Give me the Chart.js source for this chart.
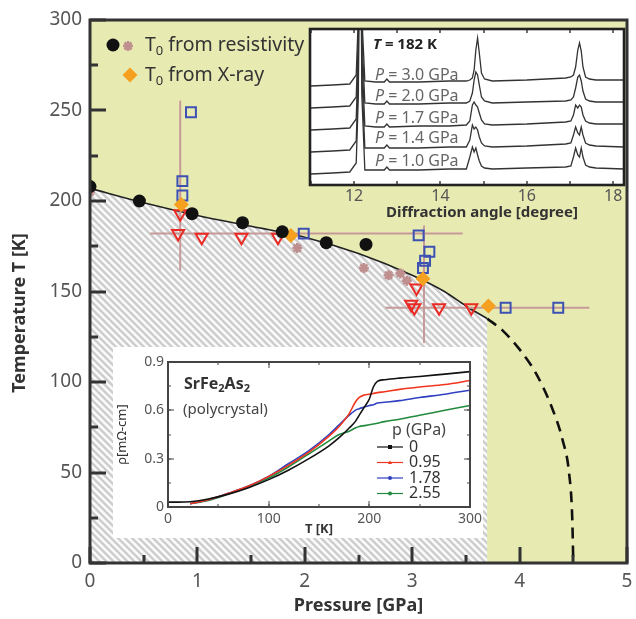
<!DOCTYPE html>
<html>
<head>
<meta charset="utf-8">
<script src="https://cdn.jsdelivr.net/npm/chart.js@4.4.1/dist/chart.umd.min.js"></script>
<style>
html,body{margin:0;padding:0;background:#fff;}
#wrap{position:relative;width:636px;height:619px;}
canvas{position:absolute;}
#main{left:0;top:0;width:636px;height:619px;}
#xrd{left:300px;top:20px;width:330px;height:210px;}
#rho{left:113px;top:347px;width:370px;height:191px;background:#fff;}
</style>
</head>
<body>
<div id="wrap">
  <canvas id="main" width="636" height="619"></canvas>
  <canvas id="xrd" width="330" height="210"></canvas>
  <canvas id="rho" width="370" height="191"></canvas>
</div>
<script>
/* ---------- phase diagram data ---------- */
const boundP = [0, 0.5, 1.0, 1.5, 2.0, 2.5, 3.0, 3.3, 3.5, 3.7];
const boundT = [207, 199, 192, 186, 180, 171, 159, 150, 142, 135];
const dashP  = [3.7, 3.85, 4.0, 4.15, 4.3, 4.4, 4.46, 4.49, 4.5];
const dashT  = [135, 128, 118, 105, 86, 68, 50, 25, 0];
const resP   = [0, 0.46, 0.95, 1.42, 1.79, 2.2, 2.57];
const resT   = [208, 200, 193, 188, 183, 177, 176];
const res2P  = [0, 1.93, 2.55, 2.78, 2.89, 2.95];
const res2T  = [205, 174, 163, 159, 160, 156];
const xrayP  = [0.85, 1.87, 3.1, 3.71];
const xrayT  = [198, 181, 157, 142];
const sqP    = [0.94, 0.86, 0.86, 1.99, 3.06, 3.16, 3.12, 3.1, 3.87, 4.36];
const sqT    = [249, 211, 203, 182, 181, 172, 167, 163, 141, 141];
const triP   = [0.84, 0.82, 1.04, 1.41, 1.75, 3.04, 2.99, 3.02, 3.25, 3.55];
const triT   = [193, 182, 180, 180, 180, 152, 143, 141, 141, 141];
const barP   = [[0.84, 0.84], [0.56, 3.47], [3.11, 3.11], [2.75, 4.65]];
const barT   = [[255, 162], [182, 182], [186, 122], [141, 141]];

/* ---------- XRD inset data (T = 182 K) ---------- */
const xrdAngle = [11.0, 11.5, 11.9, 12.05, 12.1, 12.14, 12.18, 12.25, 12.5, 12.7, 12.76, 12.82, 13.5, 14.2, 14.6, 14.68, 14.74, 14.78, 14.82, 14.86, 14.9, 14.95, 15.02, 15.2, 16.0, 16.9, 17.02, 17.08, 17.13, 17.18, 17.22, 17.26, 17.3, 17.36, 17.45, 17.6, 18.25];
const xrd30 = [99, 100, 101, 110, 170, 400, 170, 104, 103, 103, 106, 103, 103, 104, 104, 105, 107, 115, 135, 147, 132, 112, 106, 104, 105, 107, 108, 110, 118, 135, 142, 134, 118, 108, 106, 105, 105];
const xrd20 = [77, 78, 79, 88, 150, 400, 150, 82, 81, 81, 84, 81, 81, 82, 82, 84, 92, 105, 113, 110, 100, 88, 84, 82, 83, 84, 85, 88, 97, 108, 110, 104, 94, 86, 84, 83, 83];
const xrd17 = [55, 56, 57, 66, 130, 400, 130, 59, 58, 58, 61, 58, 59, 59, 60, 64, 80, 83, 80, 78, 72, 65, 61, 60, 61, 63, 64, 70, 80, 77, 80, 78, 70, 64, 62, 61, 61];
const xrd14 = [33, 34, 35, 44, 110, 400, 110, 37, 37, 37, 40, 37, 37, 38, 38, 45, 60, 56, 58, 55, 48, 42, 39, 38, 39, 41, 42, 50, 58, 52, 50, 58, 50, 42, 40, 39, 38];
const xrd10 = [11, 12, 13, 22, 90, 400, 90, 15, 15, 15, 18, 15, 15, 16, 16, 28, 38, 33, 37, 30, 24, 19, 17, 16, 17, 18, 19, 28, 37, 30, 28, 37, 28, 20, 18, 17, 16];
const xrdTraces = [xrd30, xrd20, xrd17, xrd14, xrd10];
const xrdLabels = ['3.0', '2.0', '1.7', '1.4', '1.0'];
const xrdTicks  = [12, 14, 16, 18];

/* ---------- resistivity inset data ---------- */
const rhoT   = [0, 10, 22, 40, 60, 80, 100, 120, 140, 160, 170, 180, 186, 190, 195, 200, 204, 208, 215, 230, 250, 275, 300];
const rho0   = [0.03, 0.03, 0.033, 0.05, 0.08, 0.12, 0.17, 0.23, 0.30, 0.38, 0.43, 0.49, 0.53, 0.57, 0.62, 0.67, 0.745, 0.78, 0.79, 0.80, 0.81, 0.825, 0.84];
const rho095 = [null, null, 0.02, 0.045, 0.085, 0.13, 0.19, 0.26, 0.34, 0.44, 0.50, 0.58, 0.65, 0.68, 0.695, 0.70, 0.705, 0.71, 0.715, 0.73, 0.745, 0.76, 0.785];
const rho178 = [null, null, 0.02, 0.045, 0.085, 0.13, 0.19, 0.27, 0.35, 0.45, 0.51, 0.57, 0.60, 0.61, 0.62, 0.63, 0.635, 0.645, 0.65, 0.66, 0.68, 0.70, 0.725];
const rho255 = [null, null, 0.02, 0.04, 0.08, 0.125, 0.18, 0.25, 0.33, 0.41, 0.45, 0.47, 0.49, 0.50, 0.505, 0.51, 0.515, 0.52, 0.53, 0.545, 0.57, 0.60, 0.63];
const rhoLabels = ['0', '0.95', '1.78', '2.55'];

/* ---------- helpers ---------- */
const FAM = "'Noto Sans', 'DejaVu Sans', sans-serif";
const F = (size, style) => `${style || ''} ${size}px ${FAM}`;
const pts = (xs, ys) => xs.map((x, i) => ({x, y: ys[i]}));
Chart.defaults.font.family = FAM;
Chart.defaults.animation = false;

function hatch(){
  const s = 7, p = document.createElement('canvas');
  p.width = p.height = s;
  const g = p.getContext('2d');
  g.fillStyle = '#fafafa'; g.fillRect(0, 0, s, s);
  g.strokeStyle = '#cdcdcd'; g.lineWidth = 2.4;
  g.beginPath();
  g.moveTo(-1, -1); g.lineTo(s + 1, s + 1);
  g.moveTo(-1, s - 1); g.lineTo(1, s + 1);
  g.moveTo(s - 1, -1); g.lineTo(s + 1, 1);
  g.stroke();
  return document.createElement('canvas').getContext('2d').createPattern(p, 'repeat');
}

function mark(c, style, x, y, r){
  c.beginPath();
  if (style === 'circle') { c.arc(x, y, r, 0, Math.PI * 2); c.fill(); }
  else if (style === 'rectRot') { c.moveTo(x, y - r); c.lineTo(x + r, y); c.lineTo(x, y + r); c.lineTo(x - r, y); c.closePath(); c.fill(); }
  else if (style === 'star') {
    for (let k = 0; k < 4; k++) { const a = k * Math.PI / 4; c.moveTo(x - r * Math.cos(a), y - r * Math.sin(a)); c.lineTo(x + r * Math.cos(a), y + r * Math.sin(a)); }
    c.stroke();
  }
  else if (style === 'tri') { c.moveTo(x - r, y + r * 0.8); c.lineTo(x + r, y + r * 0.8); c.lineTo(x, y - r); c.closePath(); c.fill(); }
  else if (style === 'rect') { c.rect(x - r, y - r, 2 * r, 2 * r); c.fill(); }
}

/* frame + inward ticks + plot background */
const frameTicks = {
  id: 'frameTicks',
  beforeDraw(ch, _a, o){
    if (!o.bg) return;
    const a = ch.chartArea, c = ch.ctx;
    c.save(); c.fillStyle = o.bg; c.fillRect(a.left, a.top, a.width, a.height); c.restore();
  },
  afterDraw(ch, _a, o){
    const a = ch.chartArea, c = ch.ctx;
    c.save(); c.strokeStyle = o.color; c.lineWidth = o.width; c.beginPath();
    const run = (sc, steps, fn) => (steps || []).forEach((st, k) => {
      for (let v = Math.ceil(sc.min / st - 1e-6) * st; v <= sc.max + 1e-6; v += st)
        fn(Math.round(sc.getPixelForValue(v)), o.len[k]);
    });
    run(ch.scales.x, o.xStep, (p, l) => { c.moveTo(p, a.bottom); c.lineTo(p, a.bottom - l); if (o.top) { c.moveTo(p, a.top); c.lineTo(p, a.top + l); } });
    run(ch.scales.y, o.yStep, (p, l) => { c.moveTo(a.left, p); c.lineTo(a.left + l, p); if (o.right) { c.moveTo(a.right, p); c.lineTo(a.right - l, p); } });
    c.stroke();
    c.lineWidth = o.frame;
    c.strokeRect(a.left, a.top, a.width, a.height);
    c.restore();
  }
};

/* free text and legend marks */
const notes = {
  id: 'notes',
  afterDraw(ch, _a, o){
    const c = ch.ctx;
    (o.marks || []).forEach(m => {
      c.save(); c.fillStyle = m.fill || 'rgba(0,0,0,0)'; c.strokeStyle = m.stroke || m.fill; c.lineWidth = m.bw || 1;
      if (m.line) { c.beginPath(); c.moveTo(m.x - m.line, m.y); c.lineTo(m.x + m.line, m.y); c.stroke(); }
      mark(c, m.style, m.x, m.y, m.r);
      c.restore();
    });
    (o.items || []).forEach(it => {
      c.save(); c.fillStyle = it.color || '#333'; c.textBaseline = 'middle';
      c.translate(it.x, it.y); if (it.rot) c.rotate(it.rot);
      let w = 0;
      it.parts.forEach(p => { c.font = p[1]; w += c.measureText(p[0]).width; });
      let x = it.center ? -w / 2 : 0;
      it.parts.forEach(p => { c.font = p[1]; c.fillText(p[0], x, p[2] || 0); x += c.measureText(p[0]).width; });
      c.restore();
    });
  }
};

/* keep label overhang from shrinking the plot area */
const noOverhang = s => { s.paddingLeft = 0; s.paddingRight = 0; s.paddingTop = 0; s.paddingBottom = 0; };

/* ---------- main chart ---------- */
const lineDs = (data, extra) => Object.assign({data, showLine: true, pointRadius: 0, fill: false, borderJoinStyle: 'round'}, extra);
const markDs = (data, extra) => Object.assign({data, showLine: false, clip: 0}, extra);

new Chart(document.getElementById('main'), {
  type: 'line',
  data: { datasets: [
    markDs(pts(resP, resT), {pointStyle: 'circle', pointRadius: 6.5, pointBackgroundColor: '#111', pointBorderColor: '#111', pointBorderWidth: 0, order: 1}),
    markDs(pts(xrayP, xrayT), {pointStyle: 'rectRot', pointRadius: 7.5, pointBackgroundColor: '#f5a01e', pointBorderColor: '#f5a01e', pointBorderWidth: 0, order: 2}),
    markDs(pts(sqP, sqT), {pointStyle: 'rect', pointRadius: 7, pointBackgroundColor: 'rgba(0,0,0,0)', pointBorderColor: '#3d50b4', pointBorderWidth: 2, order: 3}),
    markDs(pts(triP, triT), {pointStyle: 'triangle', pointRotation: 180, pointRadius: 7, pointBackgroundColor: 'rgba(0,0,0,0)', pointBorderColor: '#ea2a24', pointBorderWidth: 2, order: 4}),
    markDs(pts(res2P, res2T), {pointStyle: 'star', pointRadius: 5, pointBackgroundColor: '#bf8f8f', pointBorderColor: '#bf8f8f', pointBorderWidth: 2.6, order: 5}),
    ...barP.map((bp, i) => lineDs(pts(bp, barT[i]), {borderColor: '#c79a9a', borderWidth: 2, order: 6})),
    lineDs(pts(dashP, dashT), {borderColor: '#111', borderWidth: 2.6, borderDash: [11, 7], cubicInterpolationMode: 'monotone', order: 7}),
    lineDs(pts(boundP, boundT), {borderColor: '#222', borderWidth: 1.6, fill: 'origin', backgroundColor: hatch(), cubicInterpolationMode: 'monotone', order: 8})
  ]},
  options: {
    responsive: false,
    layout: {padding: {top: 20, right: 7, left: 0, bottom: 0}},
    plugins: {
      legend: {display: false}, tooltip: {enabled: false},
      frameTicks: {bg: '#e7ebb2', color: '#333', width: 3, frame: 3, xStep: [1, 0.5], yStep: [50, 25], len: [16, 8]},
      notes: {
        marks: [
          {style: 'circle', x: 113, y: 45, r: 6.5, fill: '#111'},
          {style: 'star', x: 128, y: 46, r: 5, stroke: '#bf8f8f', bw: 2.6},
          {style: 'rectRot', x: 130, y: 75, r: 7.5, fill: '#f5a01e'}
        ],
        items: [
          {x: 145, y: 45, parts: [['T', F(19.5)], ['0', F(13), 6], [' from resistivity', F(19.5)]]},
          {x: 145, y: 75, parts: [['T', F(19.5)], ['0', F(13), 6], [' from X-ray', F(19.5)]]},
          {x: 20, y: 313, rot: -Math.PI / 2, center: true, parts: [['Temperature T [K]', F(18, 'bold')]]}
        ]
      }
    },
    scales: {
      x: {type: 'linear', min: 0, max: 5,
          ticks: {stepSize: 1, font: {size: 19}, color: '#555', padding: 7, maxRotation: 0},
          grid: {display: false, drawTicks: false}, border: {display: false},
          title: {display: true, text: 'Pressure [GPa]', font: {size: 18, weight: 'bold'}, color: '#333', padding: {top: 0, bottom: 2}},
          afterFit: s => { s.height = 56; noOverhang(s); }},
      y: {min: 0, max: 300,
          ticks: {stepSize: 50, font: {size: 19}, color: '#555', padding: 8},
          grid: {display: false, drawTicks: false}, border: {display: false},
          afterFit: s => { s.width = 90; noOverhang(s); }}
    }
  },
  plugins: [frameTicks, notes]
});

/* ---------- XRD inset ---------- */
new Chart(document.getElementById('xrd'), {
  type: 'line',
  data: { datasets: xrdTraces.map(tr => ({data: pts(xrdAngle, tr), borderColor: '#333', borderWidth: 1.3, pointRadius: 0, tension: 0, clip: 0})) },
  options: {
    responsive: false,
    layout: {padding: {top: 9, right: 6, left: 10, bottom: 0}},
    plugins: {
      legend: {display: false}, tooltip: {enabled: false},
      frameTicks: {bg: '#fff', color: '#222', width: 1.3, frame: 2.6, xStep: [1], len: [4], top: true},
      notes: {
        items: [
          {x: 73, y: 25, color: '#222', parts: [['T', F(15, 'italic bold')], [' = 182 K', F(15, 'bold')]]},
          ...xrdLabels.map((l, i) => ({x: 75, y: [55, 76, 98, 118, 141][i], color: '#666', parts: [['P', F(16, 'italic')], [' = ' + l + ' GPa', F(16)]]})),
          {x: 182, y: 193, center: true, color: '#333', parts: [['Diffraction angle [degree]', F(15, 'bold')]]}
        ]
      }
    },
    scales: {
      x: {type: 'linear', min: 10.98, max: 18.25,
          afterBuildTicks: s => { s.ticks = xrdTicks.map(v => ({value: v})); },
          ticks: {font: {size: 16}, color: '#555', padding: 2, maxRotation: 0},
          grid: {display: false, drawTicks: false}, border: {display: false},
          afterFit: s => { s.height = 45; noOverhang(s); }},
      y: {display: false, min: 0, max: 156}
    }
  },
  plugins: [frameTicks, notes]
});

/* ---------- resistivity inset ---------- */
const rhoColors = ['#111', '#f0361e', '#3040c0', '#218a3c'];
const rhoMarks  = ['rect', 'tri', 'circle', 'circle'];
new Chart(document.getElementById('rho'), {
  type: 'line',
  data: { datasets: [rho0, rho095, rho178, rho255].map((r, i) => ({
    label: rhoLabels[i], data: pts(rhoT, r), borderColor: rhoColors[i], borderWidth: 1.6,
    pointRadius: 0, cubicInterpolationMode: 'monotone', spanGaps: false})) },
  options: {
    responsive: false,
    layout: {padding: {top: 15, right: 13, left: 0, bottom: 0}},
    plugins: {
      legend: {display: false}, tooltip: {enabled: false},
      frameTicks: {color: '#444', width: 1, frame: 2, xStep: [100, 50], yStep: [0.3, 0.15], len: [6, 3], top: true, right: true},
      notes: {
        marks: rhoLabels.map((l, i) => ({style: rhoMarks[i], x: 277, y: 100 + i * 15.5, r: 2, fill: rhoColors[i], stroke: rhoColors[i], bw: 1.2, line: 13})),
        items: [
          {x: 71, y: 37, color: '#333', parts: [['SrFe', F(16, 'bold')], ['2', F(11, 'bold'), 5], ['As', F(16, 'bold')], ['2', F(11, 'bold'), 5]]},
          {x: 70, y: 63, color: '#444', parts: [['(polycrystal)', F(15)]]},
          {x: 279, y: 83, color: '#444', parts: [['p (GPa)', F(16)]]},
          ...rhoLabels.map((l, i) => ({x: 296, y: 100 + i * 15.5, color: '#333', parts: [[l, F(16)]]}))
        ]
      }
    },
    scales: {
      x: {type: 'linear', min: 0, max: 300,
          ticks: {stepSize: 100, font: {size: 14}, color: '#555', padding: 4, maxRotation: 0},
          grid: {display: false, drawTicks: false}, border: {display: false},
          title: {display: true, text: 'T [K]', font: {size: 13, weight: 'bold'}, color: '#333', padding: {top: 0, bottom: 1}},
          afterFit: s => { s.height = 31; noOverhang(s); }},
      y: {min: 0, max: 0.9,
          ticks: {stepSize: 0.3, font: {size: 14}, color: '#555', padding: 4, callback: v => +v.toFixed(1)},
          grid: {display: false, drawTicks: false}, border: {display: false},
          title: {display: true, text: 'ρ[mΩ-cm]', font: {size: 13}, color: '#333', padding: {top: 1, bottom: 0}},
          afterFit: s => { s.width = 55; noOverhang(s); }}
    }
  },
  plugins: [frameTicks, notes]
});
</script>
</body>
</html>
